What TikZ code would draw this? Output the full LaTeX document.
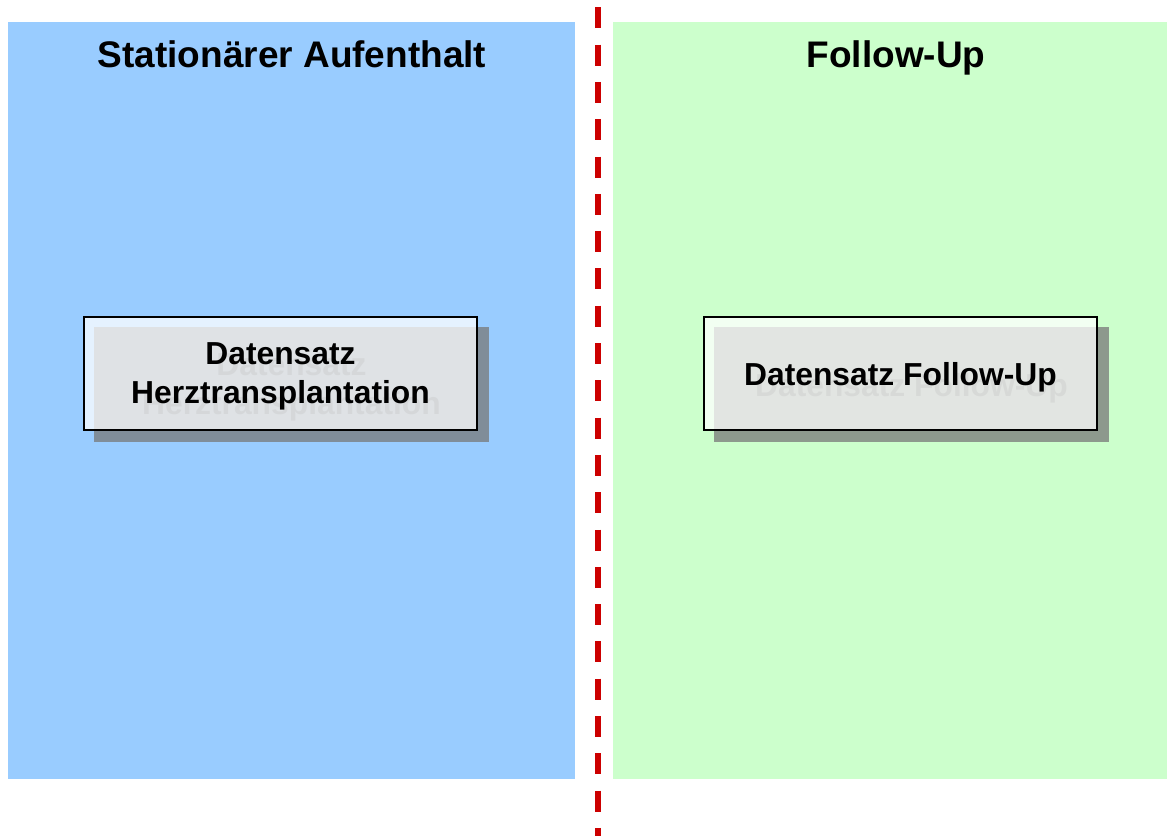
\documentclass[tikz,border=0pt]{standalone}
\usepackage{fontspec}
\setmainfont{Liberation Sans}
\definecolor{bluebg}{RGB}{153,204,255}
\definecolor{greenbg}{RGB}{204,255,204}
\definecolor{shadowgray}{RGB}{120,120,120}
\definecolor{divred}{RGB}{204,0,0}
\begin{document}
\begin{tikzpicture}[x=1pt,y=-1pt,
  paneltitle/.style={anchor=base,inner sep=0,font=\fontsize{37}{44}\selectfont\bfseries},
  boxshadow/.style={fill=shadowgray,fill opacity=0.75},
  databox/.style={draw=black,line width=2.6pt,fill=white,fill opacity=0.75,text opacity=1,
    minimum width=393pt,minimum height=113pt,inner sep=0,align=center,text depth=0pt,
    font=\fontsize{31.8}{39}\selectfont\bfseries},
  ghosttext/.style={inner sep=0,align=center,text=black,text opacity=0.3,text depth=0pt,
    font=\fontsize{31.8}{39}\selectfont\bfseries},
  divider/.style={draw=divred,line width=6pt,dash pattern=on 21pt off 16.3pt,dash phase=30pt}
]
\useasboundingbox (0,0) rectangle (1167,836);
% panels
\fill[bluebg] (8,22) rectangle (575,779);
\fill[greenbg] (613,22) rectangle (1167,779);
% divider
\coordinate (dtop) at (598,0);
\coordinate (dbot) at (598,836);
\draw[divider] (dtop) -- (dbot);
% titles
\node[paneltitle] (t1) at (292,67) {Stationärer Aufenthalt};
\node[paneltitle] (t2) at (896,67) {Follow-Up};
% left box
\fill[boxshadow] (94,327) rectangle (489,442);
\node[ghosttext] (g1) at (291.5,384.5) {Datensatz\\Herztransplantation};
\node[databox] (b1) at (280.5,373.5) {Datensatz\\Herztransplantation};
% right box
\fill[boxshadow] (714,327) rectangle (1109,442);
\node[ghosttext] (g2) at (911.5,384.5) {Datensatz Follow-Up};
\node[databox] (b2) at (900.5,373.5) {Datensatz Follow-Up};
\end{tikzpicture}
\end{document}
